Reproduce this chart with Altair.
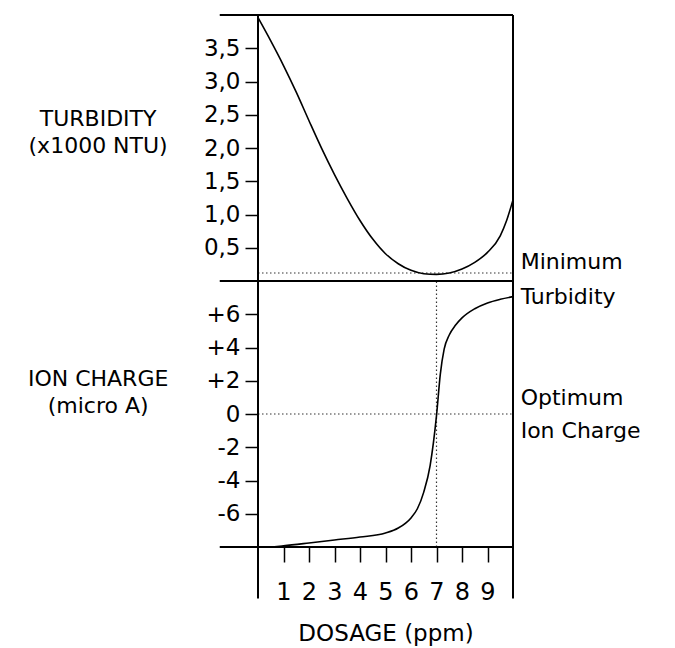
import altair as alt
import pandas as pd

# ---- data ----
dose_t = [0, 0.5, 1, 1.5, 2, 2.5, 3, 3.5, 4, 4.5, 5, 5.5, 6, 6.5, 7, 7.5, 8, 8.5, 9, 9.5, 9.75, 10]
turbidity = [3.96, 3.61, 3.24, 2.84, 2.41, 1.99, 1.60, 1.24, 0.91, 0.63, 0.41, 0.26, 0.16, 0.11,
             0.10, 0.12, 0.18, 0.28, 0.43, 0.68, 0.91, 1.22]

dose_i = [0, 0.5, 1, 2, 3, 4, 5, 5.5, 6, 6.25, 6.5, 6.75, 7.0, 7.15, 7.3, 7.5, 7.75, 8, 8.5, 9, 9.5, 10]
ion_charge = [-8.0, -8.0, -7.93, -7.76, -7.58, -7.40, -7.16, -6.86, -6.25, -5.7, -4.7, -3.1, -0.1,
              2.4, 3.9, 4.75, 5.35, 5.78, 6.33, 6.68, 6.9, 7.06]

x_ticks = [1, 2, 3, 4, 5, 6, 7, 8, 9]
turb_ticks = [0.5, 1.0, 1.5, 2.0, 2.5, 3.0, 3.5]
ion_ticks = [-6, -4, -2, 0, 2, 4, 6]

min_turbidity = 0.12     # dotted "minimum turbidity" level
optimum_charge = 0       # dotted "optimum ion charge" level
optimum_dose = 7         # dotted vertical at optimum dose

# ---- panel geometry in data units ----
X_MIN, X_MAX = 0, 10
TURB_MAX = 4
ION_MIN, ION_MAX = -8, 8
ION_SPAN = ION_MAX - ION_MIN          # lower panel occupies u in [0, 16]
TURB_SCALE = ION_SPAN / TURB_MAX      # upper panel occupies u in [16, 32]
U_MAX = 2 * ION_SPAN


def u_turb(t):
    return ION_SPAN + TURB_SCALE * t


def u_ion(v):
    return v - ION_MIN


FONT = "DejaVu Sans"

x_axis = alt.Axis(values=x_ticks, tickSize=15, tickWidth=1.5, tickColor="black",
                  labelFontSize=24, labelPadding=18, labelColor="black", labelFont=FONT,
                  domain=False, grid=False, title="DOSAGE (ppm)", titleFontSize=23,
                  titleFont=FONT, titleFontWeight="normal", titleColor="black", titlePadding=18)

y_values = [u_ion(v) for v in ion_ticks] + [u_turb(t) for t in turb_ticks]
label_expr = (
    "datum.value < 16 ? (datum.value == 8 ? '0' : (datum.value > 8 ? '+' + (datum.value - 8) "
    ": '-' + (8 - datum.value))) : replace(format((datum.value - 16) / 4, '.1f'), '.', ',')"
)
y_axis = alt.Axis(values=y_values, labelExpr=label_expr, tickSize=13, tickWidth=1.5,
                  tickColor="black", labelFontSize=23, labelPadding=5, labelColor="black",
                  labelFont=FONT, domain=False, grid=False, title=None)

x_scale = alt.Scale(domain=[X_MIN, X_MAX], nice=False, zero=False)
y_scale = alt.Scale(domain=[0, U_MAX], nice=False, zero=False)


def X(field):
    return alt.X(field, type="quantitative", scale=x_scale, axis=x_axis)


def Y(field):
    return alt.Y(field, type="quantitative", scale=y_scale, axis=y_axis)


# ---- curves ----
turb_df = pd.DataFrame({"dose": dose_t, "u": [u_turb(t) for t in turbidity]})
ion_df = pd.DataFrame({"dose": dose_i, "u": [u_ion(v) for v in ion_charge]})

turb_line = alt.Chart(turb_df).mark_line(color="black", strokeWidth=1.6, interpolate="monotone").encode(
    x=X("dose"), y=Y("u"))
ion_line = alt.Chart(ion_df).mark_line(color="black", strokeWidth=1.6, interpolate="monotone").encode(
    x=X("dose"), y=Y("u"))

# ---- frame (panel borders with their extensions) ----
ext_x = -1.5
ext_u = -3.1
frame_df = pd.DataFrame({
    "dose": [ext_x, ext_x, ext_x, X_MIN, X_MAX],
    "dose2": [X_MAX, X_MAX, X_MAX, X_MIN, X_MAX],
    "u": [U_MAX, ION_SPAN, 0, ext_u, ext_u],
    "u2": [U_MAX, ION_SPAN, 0, U_MAX, U_MAX],
})
frame = alt.Chart(frame_df).mark_rule(color="black", strokeWidth=2).encode(
    x=X("dose"), x2="dose2", y=Y("u"), y2="u2")

# ---- dotted reference lines ----
dots_df = pd.DataFrame({
    "dose": [X_MIN, X_MIN, optimum_dose],
    "dose2": [X_MAX, X_MAX, optimum_dose],
    "u": [u_turb(min_turbidity), u_ion(optimum_charge), 0],
    "u2": [u_turb(min_turbidity), u_ion(optimum_charge), ION_SPAN],
})
dots = alt.Chart(dots_df).mark_rule(color="#333333", strokeWidth=1.2, strokeDash=[1.5, 2.5]).encode(
    x=X("dose"), x2="dose2", y=Y("u"), y2="u2")

# ---- text annotations (anchor = first line) ----
left_df = pd.DataFrame({"dose": [-6.27, -6.27], "u": [u_turb(2.44), u_ion(2.1)]})
turb_title = alt.Chart(left_df.iloc[[0]]).mark_text(
    text=["TURBIDITY", "(x1000 NTU)"], align="center", baseline="middle", fontSize=22,
    lineHeight=27, font=FONT, color="black").encode(x=X("dose"), y=Y("u"))
ion_title = alt.Chart(left_df.iloc[[1]]).mark_text(
    text=["ION CHARGE", "(micro A)"], align="center", baseline="middle", fontSize=22,
    lineHeight=27, font=FONT, color="black").encode(x=X("dose"), y=Y("u"))

right_df = pd.DataFrame({"dose": [10.3, 10.3], "u": [u_turb(0.29), u_ion(0.96)]})
min_note = alt.Chart(right_df.iloc[[0]]).mark_text(
    text=["Minimum", "Turbidity"], align="left", baseline="middle", fontSize=22,
    lineHeight=35, font=FONT, color="black").encode(x=X("dose"), y=Y("u"))
opt_note = alt.Chart(right_df.iloc[[1]]).mark_text(
    text=["Optimum", "Ion Charge"], align="left", baseline="middle", fontSize=22,
    lineHeight=33, font=FONT, color="black").encode(x=X("dose"), y=Y("u"))

chart = alt.layer(
    dots, turb_line, ion_line, frame, turb_title, ion_title, min_note, opt_note
).properties(
    width=255, height=532,
    autosize=alt.AutoSizeParams(type="none"),
    padding={"left": 250, "top": 7, "right": 150, "bottom": 101},
    background="white",
).configure_view(strokeWidth=0)

chart.save("out.html", embed_options={"renderer": "svg", "actions": False})
